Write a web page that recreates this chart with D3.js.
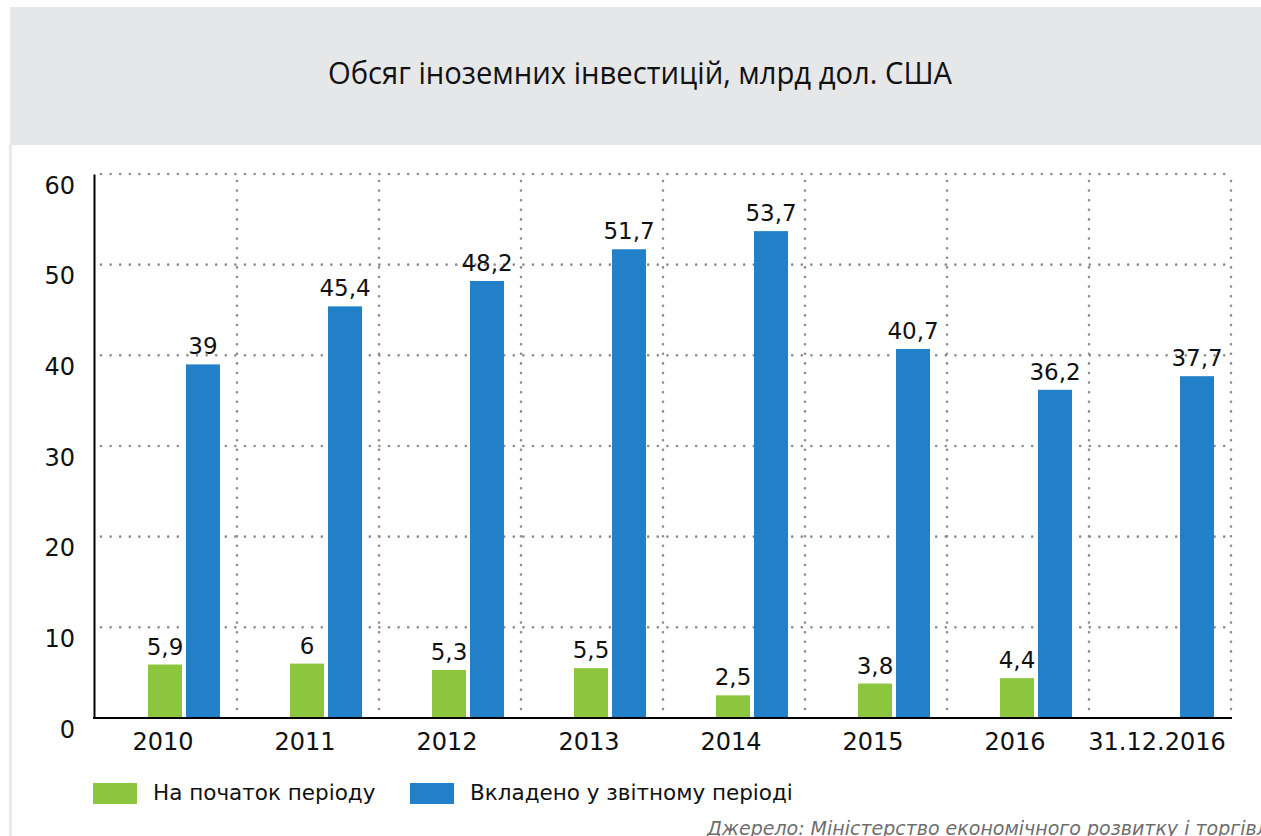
<!DOCTYPE html>
<html>
<head>
<meta charset="utf-8">
<script src="https://cdn.jsdelivr.net/npm/d3@7"></script>
<style>
    body { margin: 0; background: #fff; }
    svg { display: block; }
    .axis path { stroke: #000; stroke-width: 2; }
    .axis text { font-family: 'DejaVu Sans', sans-serif; font-size: 24px; fill: #111; }
    .grid line { stroke: #8c8c8c; stroke-width: 2.6; stroke-linecap: round; stroke-dasharray: 0 9.6; }
</style>
</head>
<body>
<script>
"use strict";

var categories = ['2010', '2011', '2012', '2013', '2014', '2015', '2016', '31.12.2016'];
var start_values = [5.9, 6, 5.3, 5.5, 2.5, 3.8, 4.4, null];
var invested_values = [39, 45.4, 48.2, 51.7, 53.7, 40.7, 36.2, 37.7];
var series_keys = ['start', 'invested'];
var series_names = ['На початок періоду', 'Вкладено у звітному періоді'];
var series_colors = ['#8cc63f', '#2180c7'];
var y_ticks = [0, 10, 20, 30, 40, 50, 60];

var title_text = 'Обсяг іноземних інвестицій, млрд дол. США';
var source_text = 'Джерело: Міністерство економічного розвитку і торгівлі';

var width = 1261;
var height = 836;

var svg = d3.select('body')
    .append('svg')
    .attr('width', width)
    .attr('height', height);

// header block
svg.append('rect')
    .attr('x', 10).attr('y', 7)
    .attr('width', width - 10).attr('height', 138)
    .attr('fill', '#e6e7e8');

svg.append('rect')
    .attr('x', 9).attr('y', 145)
    .attr('width', 3).attr('height', height - 145)
    .attr('fill', '#ebebec');

svg.append('text')
    .attr('x', 640).attr('y', 84)
    .attr('text-anchor', 'middle')
    .attr('textLength', 624)
    .attr('lengthAdjust', 'spacingAndGlyphs')
    .style('font-family', "'Open Sans', sans-serif")
    .style('font-size', '31px')
    .style('fill', '#111')
    .text(title_text);

var x = d3.scaleBand().domain(categories).range([95, 1231]);
var x_inner = d3.scaleBand().domain(series_keys).range([53, 125]).paddingInner(4 / 38);
var y = d3.scaleLinear().domain([0, 60]).range([718, 174]);

var rows = categories.map(function(c, i) {
    return { category: c, start: start_values[i], invested: invested_values[i] };
});

// dotted grid
var grid = svg.append('g').classed('grid', true);

grid.selectAll('.h')
    .data(y_ticks.filter(function(d) { return d > 0; }))
    .enter().append('line')
    .attr('class', 'h')
    .attr('x1', 101).attr('x2', 1226)
    .attr('y1', function(d) { return y(d); })
    .attr('y2', function(d) { return y(d); });

grid.selectAll('.v')
    .data(categories)
    .enter().append('line')
    .attr('class', 'v')
    .attr('x1', function(d) { return x(d) + x.step(); })
    .attr('x2', function(d) { return x(d) + x.step(); })
    .attr('y1', 181).attr('y2', 712);

// bars
var groups = svg.append('g').classed('bars', true)
    .selectAll('g')
    .data(rows)
    .enter().append('g')
    .attr('transform', function(d) { return 'translate(' + x(d.category) + ',0)'; });

var bar_data = function(d) {
    return series_keys.map(function(k, i) {
        return { key: k, value: d[k], color: series_colors[i] };
    }).filter(function(b) { return b.value != null; });
};

groups.selectAll('rect')
    .data(bar_data)
    .enter().append('rect')
    .attr('x', function(b) { return x_inner(b.key); })
    .attr('y', function(b) { return y(b.value); })
    .attr('width', x_inner.bandwidth())
    .attr('height', function(b) { return y(0) - y(b.value); })
    .attr('fill', function(b) { return b.color; });

groups.selectAll('text')
    .data(bar_data)
    .enter().append('text')
    .attr('x', function(b) { return x_inner(b.key) + x_inner.bandwidth() / 2; })
    .attr('y', function(b) { return y(b.value) - 10; })
    .attr('text-anchor', 'middle')
    .style('font-family', "'DejaVu Sans', sans-serif")
    .style('font-size', '23px')
    .style('fill', '#111')
    .text(function(b) { return String(b.value).replace('.', ','); });

// axes
var y_axis = svg.append('g')
    .attr('class', 'axis')
    .attr('transform', 'translate(94,0)')
    .call(d3.axisLeft(y).tickValues(y_ticks).tickSize(0).tickPadding(19));

y_axis.selectAll('text').attr('dy', 19);

var x_axis = svg.append('g')
    .attr('class', 'axis')
    .attr('transform', 'translate(0,718)')
    .call(d3.axisBottom(x).tickSize(0).tickPadding(15).tickSizeOuter(0));

x_axis.select('.domain').attr('d', 'M93,0H1232');
x_axis.selectAll('text').attr('dx', -3);

// legend
var legend = svg.append('g').classed('legend', true)
    .selectAll('g')
    .data(series_names)
    .enter().append('g')
    .attr('transform', function(d, i) { return 'translate(' + [93, 410][i] + ',783)'; });

legend.append('rect')
    .attr('width', 44).attr('height', 21)
    .attr('fill', function(d, i) { return series_colors[i]; });

legend.append('text')
    .attr('x', 60).attr('y', 17)
    .style('font-family', "'DejaVu Sans', sans-serif")
    .style('font-size', '21.5px')
    .style('fill', '#111')
    .text(function(d) { return d; });

// source line, clipped by the frame as in the original
svg.append('text')
    .attr('x', 707).attr('y', 835)
    .style('font-family', "'DejaVu Sans', sans-serif")
    .style('font-style', 'italic')
    .style('font-size', '19px')
    .style('fill', '#6e6e6e')
    .text(source_text);
</script>
</body>
</html>
